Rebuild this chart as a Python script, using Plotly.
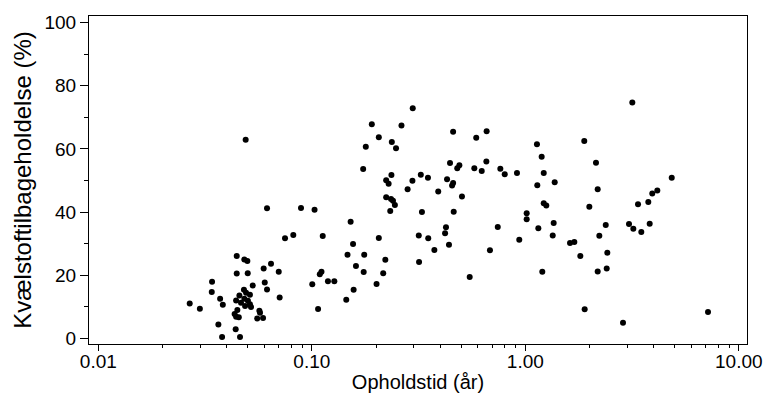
import plotly.graph_objects as go

# Residence time (years) and nitrogen retention (%)
opholdstid = [
    0.0749, 0.0819, 0.0445, 0.0483, 0.0499, 0.0644, 0.0595, 0.0700, 0.0445, 0.0501,
    0.0341, 0.0602, 0.0617, 0.0529, 0.0481, 0.0340, 0.0458, 0.0492, 0.0513, 0.0707,
    0.0372, 0.0442, 0.0483, 0.0502, 0.0383, 0.0466, 0.0513, 0.0487, 0.0519, 0.0268,
    0.0299, 0.0448, 0.0568, 0.0572, 0.0435, 0.0442, 0.0455, 0.0555, 0.0591, 0.0365,
    0.0440, 0.0380, 0.0461, 0.0490, 0.0617, 0.0890,
    0.297, 0.191, 0.263, 0.459, 0.206, 0.237, 0.248, 0.179, 0.174, 0.444,
    0.491, 0.480, 0.236, 0.223, 0.229, 0.324, 0.350, 0.296, 0.430, 0.459,
    0.454, 0.281, 0.391, 0.223, 0.235, 0.240, 0.245, 0.233, 0.505, 0.103,
    0.328, 0.462, 0.152, 0.425, 0.421, 0.1125, 0.206, 0.317, 0.351, 0.156,
    0.439, 0.375, 0.147, 0.176, 0.221, 0.318, 0.161, 0.175, 0.216, 0.111,
    0.109, 0.1005, 0.119, 0.1275, 0.157, 0.201, 0.145, 0.107,
    0.659, 0.589, 1.134, 1.889, 1.193, 2.143, 0.657, 0.577, 0.625, 0.764,
    0.801, 0.914, 1.220, 1.138, 1.373, 2.183, 1.220, 1.254, 1.995, 1.015,
    1.015, 0.743, 1.151, 1.358, 2.381, 1.344, 2.222, 0.937, 1.620, 1.697,
    0.683, 1.810, 2.422, 0.549, 1.201, 2.183, 2.406, 1.897,
    3.171, 4.851, 4.153, 3.933, 3.768, 3.372, 3.060, 3.206, 3.494, 3.825,
    2.868, 7.174,
]
kvaelstof = [
    31.7, 32.7, 26.1, 25.0, 24.5, 23.6, 22.1, 21.1, 20.5, 20.6,
    17.9, 17.7, 15.5, 16.7, 15.4, 14.7, 13.6, 14.4, 13.8, 12.9,
    12.5, 12.0, 12.5, 11.9, 10.6, 11.3, 10.8, 10.2, 9.9, 11.0,
    9.4, 9.0, 8.7, 8.1, 7.7, 6.8, 6.7, 6.3, 6.4, 4.4,
    2.9, 0.4, 0.4, 62.9, 41.2, 41.3,
    72.9, 67.8, 67.4, 65.4, 63.7, 62.2, 60.2, 60.7, 53.6, 55.5,
    54.8, 53.9, 51.7, 50.1, 49.0, 51.8, 50.9, 49.9, 50.4, 49.2,
    48.4, 47.2, 46.5, 44.7, 44.1, 43.6, 42.2, 40.3, 44.9, 40.7,
    40.0, 40.1, 36.9, 35.2, 33.3, 32.4, 31.8, 32.6, 31.7, 29.9,
    29.6, 28.0, 26.5, 26.5, 24.9, 24.2, 22.9, 21.0, 20.6, 21.1,
    20.3, 17.1, 18.1, 18.1, 15.4, 17.2, 12.2, 9.3,
    65.6, 63.5, 61.5, 62.5, 57.5, 55.6, 56.0, 53.9, 53.0, 53.7,
    52.0, 52.4, 52.4, 48.5, 49.4, 47.2, 42.8, 42.1, 41.7, 39.6,
    37.7, 35.3, 34.9, 36.5, 35.9, 32.6, 32.5, 31.2, 30.2, 30.5,
    27.9, 26.1, 27.1, 19.4, 21.1, 21.2, 22.1, 9.2,
    74.7, 50.9, 46.8, 45.9, 43.2, 42.5, 36.2, 34.7, 33.7, 36.3,
    4.9, 8.3,
]

x_tick_vals = [0.01, 0.1, 1, 10]
x_tick_text = ["0.01", "0.10", "1.00", "10.00"]
x_minor_vals = [m * d for d in (0.01, 0.1, 1) for m in range(2, 10)]
y_tick_vals = [0, 20, 40, 60, 80, 100]

FONT = "Liberation Sans, Arial, sans-serif"

fig = go.Figure(
    go.Scatter(
        x=opholdstid,
        y=kvaelstof,
        mode="markers",
        marker=dict(color="black", size=6, line=dict(width=0)),
        showlegend=False,
    )
)

fig.update_layout(
    width=771,
    height=399,
    margin=dict(l=89, r=24, t=16, b=55, autoexpand=False),
    paper_bgcolor="white",
    plot_bgcolor="white",
    font=dict(family=FONT, color="black", size=19),
)

fig.update_xaxes(
    type="log",
    range=[-2.0436, 1.0384],
    automargin=False,
    tickmode="array",
    tickvals=x_tick_vals,
    ticktext=x_tick_text,
    ticks="outside",
    ticklen=6,
    tickwidth=1,
    tickcolor="black",
    ticklabelstandoff=-6,
    tickfont=dict(family=FONT, size=19, color="black"),
    minor=dict(tickmode="array", tickvals=x_minor_vals, ticks="outside",
               ticklen=3, tickwidth=1, tickcolor="black", showgrid=False),
    showline=True,
    linecolor="black",
    linewidth=1,
    mirror=True,
    showgrid=False,
    zeroline=False,
    title=dict(text="Opholdstid (år)", font=dict(family=FONT, size=20, color="black"), standoff=4),
)

fig.update_yaxes(
    range=[-1.8, 102.1],
    automargin=False,
    tickmode="array",
    tickvals=y_tick_vals,
    ticks="outside",
    ticklen=8,
    tickwidth=1,
    tickcolor="black",
    tickfont=dict(family=FONT, size=19, color="black"),
    minor=dict(dtick=10, tick0=0, ticks="outside", ticklen=4, tickwidth=1,
               tickcolor="black", showgrid=False),
    showline=True,
    linecolor="black",
    linewidth=1,
    mirror=True,
    showgrid=False,
    zeroline=False,
    title=dict(text="Kvælstoftilbageholdelse (%)", font=dict(family=FONT, size=24, color="black"), standoff=6),
)

fig.write_html("out.html")
